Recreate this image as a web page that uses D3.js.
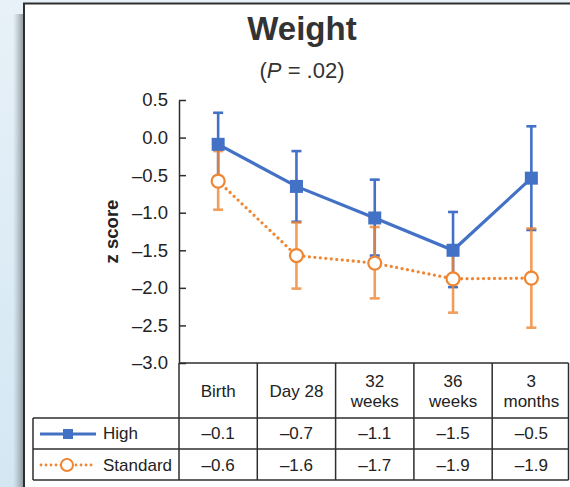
<!DOCTYPE html>
<html>
<head>
<meta charset="utf-8">
<script src="https://cdn.jsdelivr.net/npm/d3@7"></script>
<style>
	body { margin: 0; background: #dcebf6; }
	svg { display: block; font-family: "Liberation Sans", Arial, sans-serif; }
</style>
</head>
<body>
<div class="chart"></div>
<script>
var categories = ["Birth", "Day 28", "32 weeks", "36 weeks", "3 months"];
var headerLines = [["Birth"], ["Day 28"], ["32", "weeks"], ["36", "weeks"], ["3", "months"]];

var highMean = [-0.09, -0.65, -1.07, -1.50, -0.54];
var highUpper = [0.33, -0.18, -0.56, -0.99, 0.15];
var highLower = [-0.52, -1.12, -1.57, -1.99, -1.23];

var stdMean = [-0.58, -1.57, -1.67, -1.88, -1.87];
var stdUpper = [-0.18, -1.13, -1.19, -1.45, -1.21];
var stdLower = [-0.96, -2.01, -2.14, -2.33, -2.53];

var highTable = ["–0.1", "–0.7", "–1.1", "–1.5", "–0.5"];
var stdTable = ["–0.6", "–1.6", "–1.7", "–1.9", "–1.9"];

var yTicks = [0.5, 0, -0.5, -1, -1.5, -2, -2.5, -3];

var width = 570, height = 487;
var blue = "#4271c6", orange = "#ef8633", ink = "#2e2e2e";

var svg = d3.select(".chart").append("svg")
	.attr("width", width)
	.attr("height", height);

// background + panel
var defs = svg.append("defs");
var bg = defs.append("linearGradient").attr("id", "bg").attr("x1", 0).attr("y1", 0).attr("x2", 0).attr("y2", 1);
bg.append("stop").attr("offset", 0).attr("stop-color", "#e8f1f8");
bg.append("stop").attr("offset", 1).attr("stop-color", "#d3e7f3");
var sh = defs.append("linearGradient").attr("id", "shadow").attr("x1", 0).attr("x2", 1);
sh.append("stop").attr("offset", 0).attr("stop-color", "#9aa5ad").attr("stop-opacity", 0);
sh.append("stop").attr("offset", 1).attr("stop-color", "#7d868c").attr("stop-opacity", 0.9);

svg.append("rect").attr("width", width).attr("height", height).attr("fill", "url(#bg)");
svg.append("rect").attr("x", 13).attr("y", 14).attr("width", 11).attr("height", height).attr("fill", "url(#shadow)");
svg.append("rect")
	.attr("x", 24).attr("y", 3.5).attr("width", 600).attr("height", 600)
	.attr("fill", "#fff").attr("stroke", ink).attr("stroke-width", 2);

// titles
svg.append("text").attr("x", 302).attr("y", 40).attr("text-anchor", "middle")
	.attr("font-size", 33).attr("font-weight", "bold").attr("fill", "#333")
	.text("Weight");
var sub = svg.append("text").attr("x", 302).attr("y", 78).attr("text-anchor", "middle")
	.attr("font-size", 22).attr("fill", "#333");
sub.append("tspan").text("(");
sub.append("tspan").attr("font-style", "italic").text("P");
sub.append("tspan").text(" = .02)");

// scales
var x = d3.scaleBand().domain(categories).range([179, 570.5]);
var y = d3.scaleLinear().domain([-3, 0.5]).range([363, 100]);
var cx = function(i) { return x(categories[i]) + x.bandwidth() / 2; };

// y axis
var yAxis = svg.append("g")
	.attr("transform", "translate(179,0)")
	.call(d3.axisLeft(y)
		.tickValues(yTicks)
		.tickSizeInner(-7)
		.tickSizeOuter(0)
		.tickPadding(11)
		.tickFormat(function(d) { return d3.format(".1f")(d).replace("−", "–").replace("-", "–"); }));
yAxis.select(".domain").attr("stroke", ink).attr("stroke-width", 1.5);
yAxis.selectAll(".tick line").attr("stroke", ink).attr("stroke-width", 1.5);
yAxis.selectAll(".tick text").attr("font-size", 18.5).attr("fill", "#222")
	.attr("font-family", "Liberation Sans, Arial, sans-serif");

svg.append("text")
	.attr("transform", "translate(118," + y(-1.25) + ") rotate(-90)")
	.attr("text-anchor", "middle")
	.attr("font-size", 18.5).attr("font-weight", "bold").attr("fill", "#222")
	.text("z score");

// lines
var lineGen = d3.line().x(function(d, i) { return cx(i); }).y(function(d) { return y(d); });

svg.append("path").datum(highMean).attr("d", lineGen)
	.attr("fill", "none").attr("stroke", blue).attr("stroke-width", 3.2);
svg.append("path").datum(stdMean).attr("d", lineGen)
	.attr("fill", "none").attr("stroke", orange).attr("stroke-width", 3.3)
	.attr("stroke-dasharray", "0 5.5").attr("stroke-linecap", "round");

function errorBars(upper, lower, color, op) {
	var g = svg.append("g").attr("stroke", color).attr("stroke-width", 2.6).attr("opacity", op);
	var eb = g.selectAll("g").data(upper).enter().append("g");
	eb.append("line")
		.attr("x1", function(d, i) { return cx(i); })
		.attr("x2", function(d, i) { return cx(i); })
		.attr("y1", function(d) { return y(d); })
		.attr("y2", function(d, i) { return y(lower[i]); });
	eb.append("line")
		.attr("x1", function(d, i) { return cx(i) - 5; })
		.attr("x2", function(d, i) { return cx(i) + 5; })
		.attr("y1", function(d) { return y(d); })
		.attr("y2", function(d) { return y(d); });
	eb.append("line")
		.attr("x1", function(d, i) { return cx(i) - 5; })
		.attr("x2", function(d, i) { return cx(i) + 5; })
		.attr("y1", function(d, i) { return y(lower[i]); })
		.attr("y2", function(d, i) { return y(lower[i]); });
}
errorBars(highUpper, highLower, blue, 1);
errorBars(stdUpper, stdLower, orange, 0.8);

svg.append("g").selectAll("rect").data(highMean).enter().append("rect")
	.attr("x", function(d, i) { return cx(i) - 6.5; })
	.attr("y", function(d) { return y(d) - 6.5; })
	.attr("width", 13).attr("height", 13)
	.attr("fill", blue);

svg.append("g").selectAll("circle").data(stdMean).enter().append("circle")
	.attr("cx", function(d, i) { return cx(i); })
	.attr("cy", function(d) { return y(d); })
	.attr("r", 6.5)
	.attr("fill", "#fff").attr("stroke", orange).attr("stroke-width", 2.2);

// table
var rowTop = 363, headBottom = 418, row1Bottom = 449, row2Bottom = 480;
var tableLeft = 33, tableRight = x.range()[1] - 2;
var tbl = svg.append("g").attr("stroke", ink).attr("stroke-width", 1.5).attr("fill", "none");
tbl.append("line").attr("x1", 179).attr("x2", tableRight).attr("y1", rowTop).attr("y2", rowTop);
tbl.append("line").attr("x1", tableLeft).attr("x2", tableRight).attr("y1", headBottom).attr("y2", headBottom);
tbl.append("line").attr("x1", tableLeft).attr("x2", tableRight).attr("y1", row1Bottom).attr("y2", row1Bottom);
tbl.append("line").attr("x1", tableLeft).attr("x2", tableRight).attr("y1", row2Bottom).attr("y2", row2Bottom);
tbl.append("line").attr("x1", tableLeft).attr("x2", tableLeft).attr("y1", headBottom).attr("y2", row2Bottom);
tbl.selectAll(".vline").data(categories).enter().append("line")
	.attr("x1", function(d) { return x(d); })
	.attr("x2", function(d) { return x(d); })
	.attr("y1", rowTop).attr("y2", row2Bottom);
tbl.append("line").attr("x1", tableRight).attr("x2", tableRight).attr("y1", rowTop).attr("y2", row2Bottom);

var txt = svg.append("g").attr("font-size", 17).attr("fill", "#222").attr("text-anchor", "middle");
headerLines.forEach(function(lines, i) {
	var t = txt.append("text").attr("x", cx(i));
	var y0 = lines.length === 1 ? 397 : 387;
	lines.forEach(function(l, j) {
		t.append("tspan").attr("x", cx(i)).attr("y", y0 + j * 20).text(l);
	});
});
highTable.forEach(function(v, i) {
	txt.append("text").attr("x", cx(i)).attr("y", 439).text(v);
});
stdTable.forEach(function(v, i) {
	txt.append("text").attr("x", cx(i)).attr("y", 471).text(v);
});

// legend
var lg = svg.append("g");
lg.append("line").attr("x1", 40).attr("x2", 96).attr("y1", 434).attr("y2", 434)
	.attr("stroke", blue).attr("stroke-width", 3);
lg.append("rect").attr("x", 63).attr("y", 429).attr("width", 10).attr("height", 10).attr("fill", blue);
lg.append("line").attr("x1", 41).attr("x2", 96).attr("y1", 465).attr("y2", 465)
	.attr("stroke", orange).attr("stroke-width", 2.8)
	.attr("stroke-dasharray", "0 5").attr("stroke-linecap", "round");
lg.append("circle").attr("cx", 67).attr("cy", 465).attr("r", 6).attr("fill", "#fff")
	.attr("stroke", orange).attr("stroke-width", 2);
lg.append("text").attr("x", 103).attr("y", 439).attr("font-size", 17).attr("fill", "#222").text("High");
lg.append("text").attr("x", 103).attr("y", 471).attr("font-size", 17).attr("fill", "#222").text("Standard");
</script>
</body>
</html>
